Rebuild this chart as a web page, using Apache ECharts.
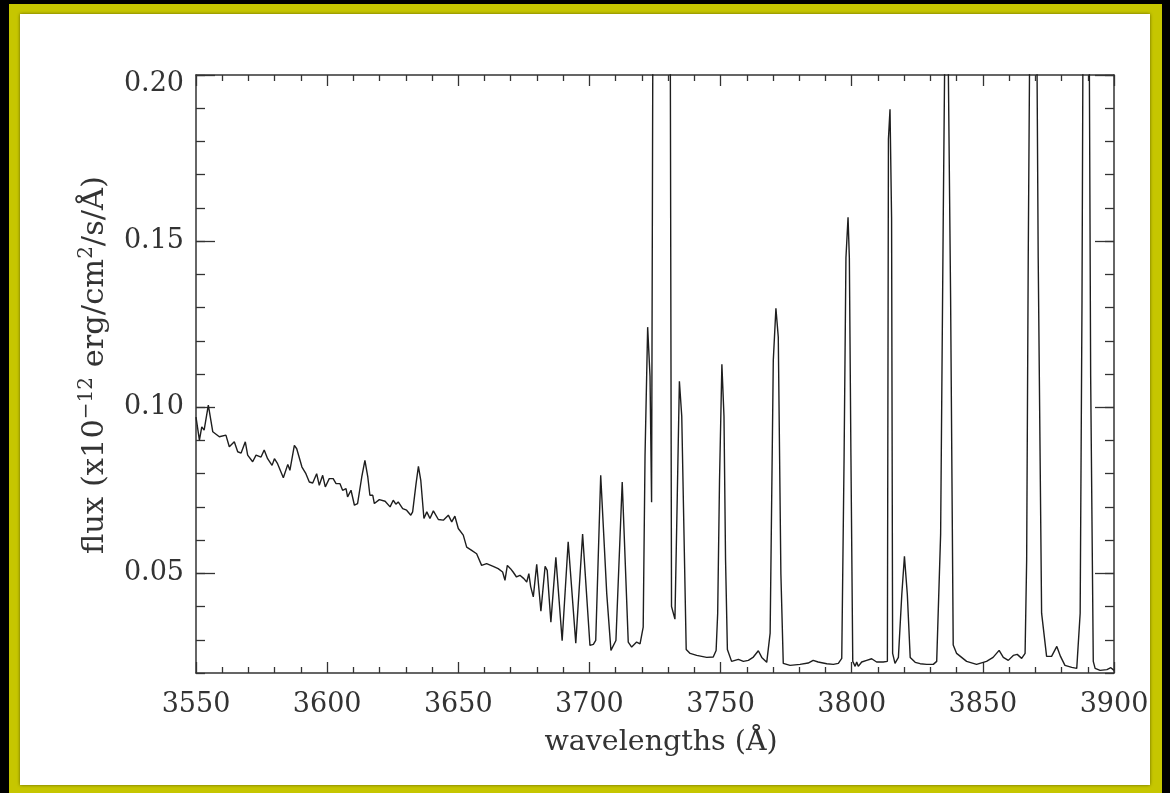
<!DOCTYPE html>
<html>
<head>
<meta charset="utf-8">
<script src="https://cdn.jsdelivr.net/npm/echarts@6/dist/echarts.min.js"></script>
<style>
html,body{margin:0;padding:0;background:#000;}
#chart{width:1170px;height:793px;}
</style>
</head>
<body>
<div id="chart"></div>
<script>
// Wavelengths (Angstrom) and flux (x1e-12 erg/cm2/s/A)
const wavelengths = [
3550.0,3550.5,3551.3,3552.2,3553.1,3554.7,3556.4,3558.9,3561.4,3562.7,3564.6,3565.9,3567.2,3568.8,3569.7,
3571.6,3572.9,3574.8,3576.0,3577.3,3579.0,3579.9,3581.1,3583.3,3585.0,3585.8,3587.5,3588.4,3590.4,3591.9,
3593.2,3594.5,3596.0,3597.0,3598.3,3599.3,3600.8,3602.3,3603.4,3604.9,3605.9,3607.2,3607.8,3609.1,3610.4,
3611.6,3613.2,3614.4,3615.5,3616.3,3617.4,3618.0,3619.9,3622.1,3624.0,3625.2,3626.2,3627.1,3628.8,3630.3,
3631.9,3632.6,3633.9,3634.8,3635.7,3636.9,3638.0,3639.2,3640.5,3642.4,3644.3,3646.2,3647.5,3648.7,3650.0,
3651.9,3653.2,3655.1,3657.0,3658.9,3660.8,3663.3,3665.2,3666.9,3667.8,3668.7,3669.9,3670.9,3672.2,3673.5,
3675.0,3676.1,3676.9,3677.6,3678.6,3679.9,3681.5,3683.1,3683.9,3685.3,3687.2,3689.6,3691.9,3694.8,3697.4,
3700.2,3701.5,3702.4,3704.3,3706.6,3708.2,3710.1,3712.5,3714.8,3716.1,3718.0,3719.3,3720.5,3721.2,3722.2,
3723.1,3723.7,3725.0,3726.1,3727.5,3728.9,3730.3,3731.3,3732.6,3733.5,3734.3,3735.2,3736.9,3738.4,3740.9,
3744.7,3747.2,3748.3,3748.9,3749.6,3750.5,3751.3,3751.9,3752.6,3754.2,3756.8,3758.7,3760.6,3762.5,3764.4,
3765.7,3767.6,3768.9,3770.1,3771.1,3772.0,3773.0,3773.9,3774.6,3776.5,3780.3,3783.4,3785.3,3787.2,3790.5,
3793.0,3794.9,3796.2,3797.1,3797.8,3798.6,3799.1,3799.7,3800.4,3801.3,3801.9,3802.5,3803.8,3805.7,3807.6,
3809.5,3812.0,3813.6,3814.0,3814.6,3815.2,3815.6,3816.5,3817.8,3819.1,3820.1,3821.2,3822.3,3824.2,3826.1,
3828.6,3831.1,3832.4,3833.9,3834.9,3836.1,3837.7,3838.7,3840.0,3843.8,3847.6,3851.4,3853.9,3856.2,3857.8,
3859.7,3861.6,3863.1,3864.8,3866.1,3866.7,3867.3,3868.3,3869.2,3870.2,3871.1,3872.4,3874.3,3876.2,3878.2,
3879.6,3881.3,3883.9,3885.8,3887.1,3887.8,3888.5,3889.4,3890.3,3891.1,3892.1,3892.8,3894.7,3897.3,3898.8,
3900.0
];
const flux = [
0.0970,0.0971,0.0901,0.0941,0.0931,0.1006,0.0926,0.0911,0.0916,0.0881,0.0896,0.0866,0.0862,0.0896,0.0856,
0.0836,0.0856,0.0850,0.0871,0.0845,0.0825,0.0845,0.0830,0.0788,0.0828,0.0810,0.0885,0.0875,0.0820,0.0800,
0.0775,0.0772,0.0800,0.0765,0.0795,0.0760,0.0785,0.0785,0.0770,0.0770,0.0750,0.0755,0.0730,0.0750,0.0705,
0.0710,0.0790,0.0840,0.0790,0.0735,0.0735,0.0710,0.0722,0.0717,0.0700,0.0720,0.0708,0.0715,0.0695,0.0690,
0.0675,0.0685,0.0770,0.0822,0.0780,0.0665,0.0685,0.0665,0.0688,0.0662,0.0660,0.0675,0.0655,0.0672,0.0635,
0.0615,0.0579,0.0569,0.0559,0.0524,0.0529,0.0521,0.0514,0.0504,0.0479,0.0524,0.0514,0.0504,0.0489,0.0494,
0.0484,0.0474,0.0499,0.0460,0.0429,0.0527,0.0386,0.0521,0.0509,0.0353,0.0548,0.0297,0.0595,0.0290,0.0618,
0.0283,0.0286,0.0298,0.0795,0.0439,0.0268,0.0298,0.0775,0.0293,0.0278,0.0293,0.0288,0.0338,0.0855,0.1241,
0.1093,0.0714,0.4500,1.1000,0.9000,0.9500,0.4000,0.0400,0.0362,0.0735,0.1078,0.0973,0.0271,0.0259,0.0253,
0.0247,0.0248,0.0268,0.0380,0.0780,0.1129,0.0973,0.0540,0.0271,0.0235,0.0241,0.0235,0.0238,0.0248,0.0267,
0.0247,0.0232,0.0320,0.1141,0.1298,0.1211,0.0497,0.0229,0.0223,0.0223,0.0226,0.0230,0.0238,0.0233,0.0228,
0.0226,0.0229,0.0244,0.0855,0.1449,0.1572,0.1449,0.0855,0.0235,0.0220,0.0233,0.0220,0.0233,0.0238,0.0243,
0.0233,0.0233,0.0235,0.1807,0.1897,0.1571,0.0259,0.0229,0.0247,0.0437,0.0551,0.0437,0.0247,0.0232,0.0228,
0.0226,0.0226,0.0235,0.0618,0.1571,0.2600,0.1331,0.0284,0.0259,0.0235,0.0226,0.0235,0.0247,0.0268,0.0247,
0.0238,0.0253,0.0256,0.0244,0.0259,0.0540,0.1449,0.2600,0.4200,0.2600,0.1450,0.0380,0.0250,0.0250,0.0280,
0.0250,0.0223,0.0217,0.0214,0.0380,0.1320,0.2800,0.3600,0.2600,0.1093,0.0235,0.0214,0.0208,0.0210,0.0216,
0.0208
];
const xTickLabels = [3550, 3600, 3650, 3700, 3750, 3800, 3850, 3900];
const yTickLabels = [0.05, 0.10, 0.15, 0.20];

const FONT = 'DejaVu Serif';
const INK = '#333';
const chart = echarts.init(document.getElementById('chart'), null, {renderer: 'canvas'});
const seriesData = wavelengths.map((w, i) => [w, flux[i]]);

const axisLineStyle = {show: true, lineStyle: {color: INK, width: 1.5}};
function xAx(pos, showLabel) {
  return {
    type: 'value', position: pos, min: xTickLabels[0], max: xTickLabels[xTickLabels.length - 1], interval: 50,
    axisLine: axisLineStyle,
    axisTick: {show: true, inside: true, length: 11, lineStyle: {color: INK, width: 1.3}},
    minorTick: {show: true, splitNumber: 5, length: 6, lineStyle: {color: INK, width: 1.3}},
    splitLine: {show: false}, minorSplitLine: {show: false},
    axisLabel: {show: showLabel, formatter: v => String(Math.round(v)),
      fontFamily: FONT, fontSize: 27, color: INK, margin: 18},
    name: showLabel ? 'wavelengths (Å)' : '',
    nameLocation: 'middle', nameGap: 55,
    nameTextStyle: {fontFamily: FONT, fontSize: 28.5, color: INK, padding: [0, 0, 0, 12]}
  };
}
function yMajor(pos, showLabel) {
  return {
    type: 'value', position: pos, min: 0.02, max: 0.20,
    axisLine: axisLineStyle,
    axisTick: {show: true, inside: true, length: 19, customValues: yTickLabels, lineStyle: {color: INK, width: 1.3}},
    splitLine: {show: false},
    axisLabel: {show: showLabel, customValues: yTickLabels,
      formatter: v => (Math.abs(v - 0.2) < 1e-9 ? '{top|' + v.toFixed(2) + '}' : v.toFixed(2)),
      rich: {top: {fontFamily: FONT, fontSize: 27, color: INK, padding: [18, 0, 0, 0]}},
      fontFamily: FONT, fontSize: 27, color: INK, margin: 12},
    name: showLabel ? 'flux (x10{sup|−12} erg/cm{sup|2}/s/Å)' : '',
    nameLocation: 'middle', nameRotate: 90, nameGap: 81,
    nameTextStyle: {fontFamily: FONT, fontSize: 30.5, color: INK, lineHeight: 36, padding: [0, 0, 0, 18],
      rich: {sup: {fontFamily: FONT, fontSize: 20, color: INK, verticalAlign: 'top', lineHeight: 36}}}
  };
}
function yMinor(pos) {
  return {
    type: 'value', position: pos, min: 0.02, max: 0.20, interval: 0.01,
    axisLine: {show: false},
    axisTick: {show: true, inside: true, length: 9, lineStyle: {color: INK, width: 1.3}},
    splitLine: {show: false},
    axisLabel: {show: false}
  };
}

chart.setOption({
  animation: false,
  backgroundColor: '#000',
  graphic: [
    {type: 'rect', z: -10, shape: {x: 9, y: 4, width: 1153, height: 795},
      style: {fill: '#c6c600', shadowBlur: 12, shadowColor: '#000'}},
    {type: 'rect', z: -9, shape: {x: 20, y: 14, width: 1130, height: 771},
      style: {fill: '#fff', shadowBlur: 3, shadowColor: 'rgba(0,0,0,0.5)'}}
  ],
  grid: {left: 196, right: 56, top: 75, bottom: 120, containLabel: false},
  xAxis: [xAx('bottom', true), xAx('top', false)],
  yAxis: [yMajor('left', true), yMinor('left'), yMajor('right', false), yMinor('right')],
  series: [{
    type: 'line', xAxisIndex: 0, yAxisIndex: 0, data: seriesData,
    showSymbol: false, symbol: 'none', clip: true,
    lineStyle: {color: '#1e1e1e', width: 1.4}
  }]
});
</script>
</body>
</html>
